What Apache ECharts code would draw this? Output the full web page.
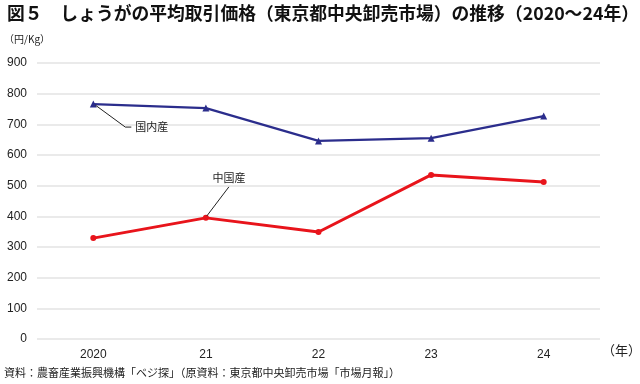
<!DOCTYPE html>
<html><head><meta charset="utf-8">
<script src="https://cdn.jsdelivr.net/npm/echarts@6/dist/echarts.min.js"></script>
<style>html,body{margin:0;padding:0;background:#fff;}#c{width:640px;height:384px;}</style>
</head><body><div id="c"></div>
<script>
const categories = ['2020', '21', '22', '23', '24'];
const domestic = [766, 753, 646, 655, 727];
const chinese = [329, 395, 349, 535, 512];
const yTicks = {min: 0, max: 900, interval: 100};

const FONT = '"Noto Sans CJK JP", "Noto Sans", sans-serif';
const chart = echarts.init(document.getElementById('c'));
const option = {
  animation: false,
  backgroundColor: '#fff',
  grid: {left: 37, right: 40, top: 63, bottom: 45, containLabel: false},
  xAxis: {
    type: 'category', data: categories, boundaryGap: true,
    axisLine: {show: false}, axisTick: {show: false},
    axisLabel: {color: '#222', fontSize: 12, fontFamily: 'Liberation Sans, Arial', margin: 10}
  },
  yAxis: {
    type: 'value', min: yTicks.min, max: yTicks.max, interval: yTicks.interval,
    axisLine: {show: false}, axisTick: {show: false},
    axisLabel: {color: '#222', fontSize: 12, fontFamily: 'Liberation Sans, Arial', margin: 10},
    splitLine: {lineStyle: {color: '#e3e3e3', width: 1.5}}
  },
  series: [
    {name: '国内産', type: 'line', data: domestic, symbol: 'triangle', symbolSize: 7,
     lineStyle: {color: '#2b2d8c', width: 2.2}, itemStyle: {color: '#2b2d8c'}},
    {name: '中国産', type: 'line', data: chinese, symbol: 'circle', symbolSize: 6,
     lineStyle: {color: '#e8141b', width: 3}, itemStyle: {color: '#e8141b'}}
  ]
};
chart.setOption(option);

const p1 = chart.convertToPixel({seriesIndex: 0}, [0, domestic[0]]);
const p2 = chart.convertToPixel({seriesIndex: 1}, [1, chinese[1]]);
chart.setOption({
  graphic: [
    {type: 'text', left: 7, top: 4, style: {text: '図５　しょうがの平均取引価格（東京都中央卸売市場）の推移（2020～24年）', font: 'bold 17.8px ' + FONT, fill: '#111'}},
    {type: 'text', left: 4, top: 34, style: {text: '（円/Kg）', font: '10px ' + FONT, fill: '#222'}},
    {type: 'text', left: 602, top: 344, style: {text: '（年）', font: '13px ' + FONT, fill: '#222'}},
    {type: 'text', left: 4, top: 367, style: {text: '資料：農畜産業振興機構「ベジ探」（原資料：東京都中央卸売市場「市場月報」）', font: '11px ' + FONT, fill: '#222'}},
    {type: 'polyline', shape: {points: [[p1[0] + 2, p1[1] + 1], [p1[0] + 32, p1[1] + 23], [p1[0] + 38, p1[1] + 23]]}, style: {stroke: '#222', lineWidth: 1, fill: null}, z: 10},
    {type: 'text', x: p1[0] + 42, y: p1[1] + 23, style: {text: '国内産', font: '11px ' + FONT, fill: '#222', verticalAlign: 'middle'}, z: 10},
    {type: 'line', shape: {x1: p2[0] + 1, y1: p2[1] - 2, x2: p2[0] + 23, y2: p2[1] - 31}, style: {stroke: '#222', lineWidth: 1}, z: 10},
    {type: 'text', x: p2[0] + 23, y: p2[1] - 40, style: {text: '中国産', font: '11px ' + FONT, fill: '#222', align: 'center', verticalAlign: 'middle'}, z: 10}
  ]
});
</script></body></html>
